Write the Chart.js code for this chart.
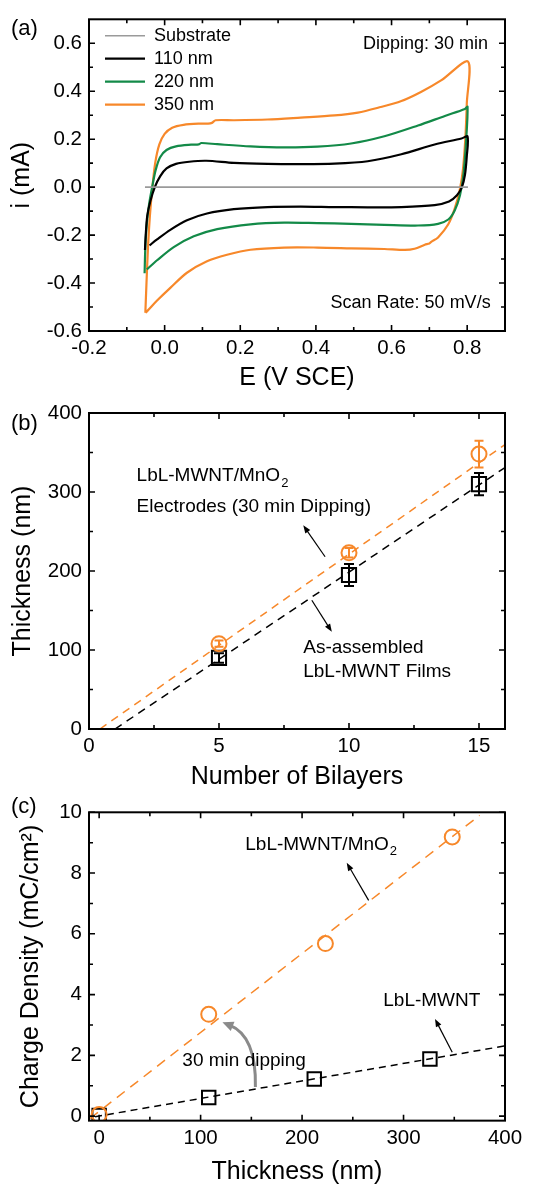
<!DOCTYPE html>
<html><head><meta charset="utf-8">
<script src="https://cdn.jsdelivr.net/npm/chart.js@4.4.0/dist/chart.umd.min.js"></script>
<style>
html,body{margin:0;padding:0;background:#fff;overflow:hidden;width:536px;height:1184px;}
.p{position:absolute;left:0;width:536px;}
canvas{display:block;}
</style></head><body>
<div class="p" style="top:0"><canvas id="ca" width="536" height="393"></canvas></div>
<div class="p" style="top:393px"><canvas id="cb" width="536" height="400"></canvas></div>
<div class="p" style="top:793px"><canvas id="cc" width="536" height="394"></canvas></div>
<script>
// ---------- Panel (a): cyclic voltammograms ----------
const eSub = [-0.052, 0.802];
const iSub = [0, 0];
const e110 = [-0.052,-0.050,-0.046,-0.038,-0.026,-0.012,0.005,0.030,0.065,0.110,0.183,0.272,0.360,0.449,0.537,0.626,0.714,0.785,0.801,
              0.799,0.794,0.786,0.773,0.752,0.714,0.626,0.537,0.449,0.360,0.272,0.183,0.112,0.059,0.015,-0.020,-0.040];
const i110 = [-0.262,-0.200,-0.120,-0.060,0.000,0.045,0.078,0.097,0.106,0.110,0.101,0.097,0.096,0.098,0.108,0.137,0.178,0.203,0.211,
              0.130,0.050,0.000,-0.034,-0.060,-0.075,-0.083,-0.084,-0.083,-0.081,-0.083,-0.092,-0.110,-0.138,-0.178,-0.218,-0.243];
const e220 = [-0.053,-0.051,-0.047,-0.041,-0.033,-0.024,-0.012,0.005,0.030,0.070,0.090,0.097,0.139,0.227,0.316,0.404,0.493,0.581,0.670,0.741,0.794,0.801,
              0.797,0.790,0.781,0.767,0.750,0.723,0.670,0.581,0.493,0.404,0.316,0.227,0.139,0.077,0.024,-0.020,-0.047];
const i220 = [-0.359,-0.250,-0.150,-0.070,0.000,0.070,0.125,0.155,0.170,0.177,0.178,0.184,0.179,0.170,0.166,0.169,0.182,0.212,0.257,0.297,0.326,0.335,
              0.190,0.050,-0.034,-0.097,-0.135,-0.153,-0.160,-0.157,-0.153,-0.150,-0.148,-0.155,-0.175,-0.205,-0.250,-0.305,-0.343];
const e350 = [-0.051,-0.048,-0.044,-0.039,-0.033,-0.025,-0.014,0.000,0.020,0.050,0.090,0.115,0.125,0.135,0.183,0.272,0.360,0.449,0.511,0.564,0.626,0.679,0.732,0.802,
              0.799,0.795,0.789,0.781,0.767,0.750,0.723,0.705,0.700,0.688,0.661,0.635,0.581,0.493,0.404,0.316,0.227,0.165,0.112,0.059,0.015,-0.020,-0.045,-0.051];
const i350 = [-0.524,-0.400,-0.250,-0.120,-0.010,0.100,0.178,0.222,0.248,0.260,0.265,0.265,0.268,0.279,0.279,0.282,0.290,0.299,0.311,0.331,0.359,0.398,0.446,0.524,
              0.350,0.200,0.076,-0.007,-0.090,-0.155,-0.210,-0.228,-0.235,-0.240,-0.257,-0.262,-0.258,-0.255,-0.252,-0.252,-0.261,-0.282,-0.309,-0.357,-0.420,-0.473,-0.515,-0.524];
const aXTicks = [-0.2, 0.0, 0.2, 0.4, 0.6, 0.8];
const aXTickLabels = ['-0.2', '0.0', '0.2', '0.4', '0.6', '0.8'];
const aXMinor = [-0.1, 0.1, 0.3, 0.5, 0.7];
const aYTicks = [-0.6, -0.4, -0.2, 0.0, 0.2, 0.4, 0.6];
const aYTickLabels = ['-0.6', '-0.4', '-0.2', '0.0', '0.2', '0.4', '0.6'];
const aYMinor = [-0.5, -0.3, -0.1, 0.1, 0.3, 0.5];

// ---------- Panel (b): thickness vs bilayers ----------
const bilayers = [5, 10, 15];
const thickElectrode = [108, 223, 348];
const thickElectrodeErr = [4, 6, 17];
const thickFilm = [90, 195, 310];
const thickFilmErr = [6, 14, 14];
const fitElectrodeBilayers = [0.42, 16];
const fitElectrodeThick = [0, 360];
const fitFilmBilayers = [1, 16];
const fitFilmThick = [0, 331];
const bXTicks = [0, 5, 10, 15];
const bXTickLabels = ['0', '5', '10', '15'];
const bXMinor = [2.5, 7.5, 12.5];
const bYTicks = [0, 100, 200, 300, 400];
const bYTickLabels = ['0', '100', '200', '300', '400'];
const bYMinor = [50, 150, 250, 350];

// ---------- Panel (c): charge density vs thickness ----------
const thickC = [0, 108, 223, 348];
const chargeElectrode = [0.05, 3.35, 5.68, 9.19];
const thickCFilm = [0, 108, 212, 326];
const chargeFilm = [0.02, 0.61, 1.22, 1.88];
const fitCElectrodeThick = [-9, 375];
const fitCElectrodeCharge = [-0.08, 9.9];
const fitCFilmThick = [-4, 400];
const fitCFilmCharge = [-0.02, 2.31];
const cXTicks = [0, 100, 200, 300, 400];
const cXTickLabels = ['0', '100', '200', '300', '400'];
const cXMinor = [50, 150, 250, 350];
const cYTicks = [0, 2, 4, 6, 8, 10];
const cYTickLabels = ['0', '2', '4', '6', '8', '10'];
const cYMinor = [1, 3, 5, 7, 9];

const FONT = "'Liberation Sans', Arial, Helvetica, sans-serif";
const ORANGE = '#F7882A', GREEN = '#138A48', GRAY = '#9A9A9A', BLACK = '#000000';
Chart.defaults.font.family = FONT;
Chart.defaults.color = '#000';
Chart.defaults.animation = false;

function pts(xs, ys) { return xs.map((x, i) => ({x: x, y: ys[i]})); }
const fixedTicks = vals => scale => { scale.ticks = vals.map(v => ({value: v})); };

function arrow(ctx, x0, y0, x1, y1, color, lw, hl, hw, cx, cy) {
  ctx.save();
  ctx.strokeStyle = color; ctx.fillStyle = color; ctx.lineWidth = lw;
  let ang = (cx !== undefined) ? Math.atan2(y1 - cy, x1 - cx) : Math.atan2(y1 - y0, x1 - x0);
  const ex = x1 - Math.cos(ang) * hl * 0.7, ey = y1 - Math.sin(ang) * hl * 0.7;
  ctx.beginPath(); ctx.moveTo(x0, y0);
  if (cx !== undefined) ctx.quadraticCurveTo(cx, cy, ex, ey); else ctx.lineTo(ex, ey);
  ctx.stroke();
  ctx.beginPath(); ctx.moveTo(x1, y1);
  ctx.lineTo(x1 - hl * Math.cos(ang) + hw * Math.sin(ang), y1 - hl * Math.sin(ang) - hw * Math.cos(ang));
  ctx.lineTo(x1 - hl * Math.cos(ang) - hw * Math.sin(ang), y1 - hl * Math.sin(ang) + hw * Math.cos(ang));
  ctx.closePath(); ctx.fill();
  ctx.restore();
}

const decor = {
  id: 'decor',
  afterLayout(chart, args, o) {
    if (o.legendAt && chart.legend) { chart.legend.left = o.legendAt[0]; chart.legend.top = o.legendAt[1]; }
  },
  beforeDatasetsDraw(chart, args, o) {
    const {ctx, scales: {x, y}} = chart;
    (o.errorBars || []).forEach(eb => {
      ctx.save(); ctx.strokeStyle = eb.color; ctx.lineWidth = eb.width;
      eb.xs.forEach((xv, i) => {
        const px = x.getPixelForValue(xv);
        const y1 = y.getPixelForValue(eb.ys[i] - eb.err[i]), y2 = y.getPixelForValue(eb.ys[i] + eb.err[i]);
        ctx.beginPath();
        ctx.moveTo(px, y1); ctx.lineTo(px, y2);
        ctx.moveTo(px - eb.cap, y1); ctx.lineTo(px + eb.cap, y1);
        ctx.moveTo(px - eb.cap, y2); ctx.lineTo(px + eb.cap, y2);
        ctx.stroke();
      });
      ctx.restore();
    });
  },
  afterDraw(chart, args, o) {
    const {ctx, chartArea: a, scales: {x, y}} = chart;
    ctx.save();
    ctx.strokeStyle = '#000'; ctx.lineWidth = 1.6;
    const t = o.ticks;
    const xt = (vals, len) => vals.forEach(v => { const p = x.getPixelForValue(v);
      ctx.beginPath(); ctx.moveTo(p, a.bottom); ctx.lineTo(p, a.bottom - len);
      ctx.moveTo(p, a.top); ctx.lineTo(p, a.top + len); ctx.stroke(); });
    const yt = (vals, len) => vals.forEach(v => { const p = y.getPixelForValue(v);
      ctx.beginPath(); ctx.moveTo(a.left, p); ctx.lineTo(a.left + len, p);
      ctx.moveTo(a.right, p); ctx.lineTo(a.right - len, p); ctx.stroke(); });
    xt(t.xMajor, 6); xt(t.xMinor, 4); yt(t.yMajor, 6); yt(t.yMinor, 4);
    ctx.lineWidth = 2;
    ctx.strokeRect(a.left, a.top, a.right - a.left, a.bottom - a.top);
    ctx.restore();
    (o.arrows || []).forEach(ar => {
      const c = ar.ctrl;
      arrow(ctx, x.getPixelForValue(ar.from[0]), y.getPixelForValue(ar.from[1]),
        x.getPixelForValue(ar.to[0]), y.getPixelForValue(ar.to[1]), ar.color, ar.width, ar.hl, ar.hw,
        c ? x.getPixelForValue(c[0]) : undefined, c ? y.getPixelForValue(c[1]) : undefined);
    });
    ctx.save();
    ctx.fillStyle = '#000'; ctx.textBaseline = 'middle';
    (o.texts || []).forEach(tx => {
      const px = x.getPixelForValue(tx.x), py = y.getPixelForValue(tx.y);
      ctx.font = tx.size + 'px ' + FONT; ctx.textAlign = tx.align || 'left';
      ctx.fillText(tx.text, px, py);
      if (tx.sub) {
        const w = ctx.measureText(tx.text).width;
        ctx.font = Math.round(tx.size * 0.68) + 'px ' + FONT; ctx.textAlign = 'left';
        ctx.fillText(tx.sub, px + w + 1, py + 7);
      }
    });
    if (o.label) {
      ctx.font = '22px ' + FONT; ctx.textAlign = 'left';
      ctx.fillText(o.label.text, o.label.x, o.label.y);
    }
    ctx.restore();
  }
};

function axis(min, max, tickVals, tickLabels, size, isX, title, titlePad) {
  return {
    type: 'linear', min: min, max: max,
    afterBuildTicks: fixedTicks(tickVals),
    afterFit: s => { if (isX) s.height = size; else s.width = size; },
    grid: {display: false, drawTicks: false},
    border: {display: false},
    ticks: {padding: isX ? 5 : 7, font: {size: 20.5}, color: '#000', autoSkip: false, maxRotation: 0,
      callback: (v, i) => tickLabels[i]},
    title: {display: true, text: title, font: {size: 25}, color: '#000', padding: titlePad}
  };
}

const common = {responsive: false, animation: false, events: []};

// Panel (a)
new Chart(document.getElementById('ca'), {
  type: 'scatter',
  data: {datasets: [
    {label: 'Substrate', data: pts(eSub, iSub), showLine: true, borderColor: GRAY, backgroundColor: GRAY, borderWidth: 1.6, pointRadius: 0},
    {label: '110 nm', data: pts(e110, i110), showLine: true, borderColor: BLACK, backgroundColor: BLACK, borderWidth: 2.2, pointRadius: 0, tension: 0.3, borderJoinStyle: 'round'},
    {label: '220 nm', data: pts(e220, i220), showLine: true, borderColor: GREEN, backgroundColor: GREEN, borderWidth: 2.2, pointRadius: 0, tension: 0.3, borderJoinStyle: 'round'},
    {label: '350 nm', data: pts(e350, i350), showLine: true, borderColor: ORANGE, backgroundColor: ORANGE, borderWidth: 2.2, pointRadius: 0, tension: 0.3, borderJoinStyle: 'round'}
  ]},
  options: Object.assign({}, common, {
    layout: {padding: {top: 16, right: 31, bottom: 0, left: 0}},
    scales: {
      x: axis(-0.2, 0.9, aXTicks, aXTickLabels, 62, true, 'E (V SCE)', {top: 0, bottom: 0}),
      y: axis(-0.6, 0.7, aYTicks, aYTickLabels, 89, false, 'i (mA)', {top: 7.5, bottom: 0})
    },
    plugins: {
      tooltip: {enabled: false},
      legend: {display: true, position: 'chartArea', align: 'start',
        labels: {usePointStyle: true, pointStyle: 'line', pointStyleWidth: 40, boxHeight: 18, padding: 5,
          font: {size: 18}, color: '#000'}},
      decor: {
        legendAt: [100, 21.7],
        ticks: {xMajor: aXTicks, xMinor: aXMinor, yMajor: aYTicks, yMinor: aYMinor},
        texts: [
          {x: 0.855, y: 0.598, text: 'Dipping: 30 min', size: 18, align: 'right'},
          {x: 0.862, y: -0.482, text: 'Scan Rate: 50 mV/s', size: 18, align: 'right'}
        ],
        label: {text: '(a)', x: 11, y: 29}
      }
    }
  }),
  plugins: [decor]
});

// Panel (b)
new Chart(document.getElementById('cb'), {
  type: 'scatter',
  data: {datasets: [
    {label: 'LbL-MWNT/MnO2 electrodes', data: pts(bilayers, thickElectrode), pointStyle: 'circle', pointRadius: 7.5,
      pointBorderColor: ORANGE, pointBackgroundColor: 'rgba(0,0,0,0)', pointBorderWidth: 2},
    {label: 'As-assembled LbL-MWNT films', data: pts(bilayers, thickFilm), pointStyle: 'rect', pointRadius: 10,
      pointBorderColor: BLACK, pointBackgroundColor: 'rgba(0,0,0,0)', pointBorderWidth: 2},
    {label: 'fit electrodes', data: pts(fitElectrodeBilayers, fitElectrodeThick), showLine: true, borderColor: ORANGE,
      borderWidth: 1.5, borderDash: [8, 6], pointRadius: 0},
    {label: 'fit films', data: pts(fitFilmBilayers, fitFilmThick), showLine: true, borderColor: BLACK,
      borderWidth: 1.5, borderDash: [8, 6], pointRadius: 0}
  ]},
  options: Object.assign({}, common, {
    layout: {padding: {top: 20, right: 31, bottom: 0, left: 0}},
    scales: {
      x: axis(0, 16, bXTicks, bXTickLabels, 64, true, 'Number of Bilayers', {top: 0, bottom: 1}),
      y: axis(0, 400, bYTicks, bYTickLabels, 89, false, 'Thickness (nm)', {top: 8, bottom: 0})
    },
    plugins: {
      tooltip: {enabled: false},
      legend: {display: false},
      decor: {
        ticks: {xMajor: bXTicks, xMinor: bXMinor, yMajor: bYTicks, yMinor: bYMinor},
        errorBars: [
          {xs: bilayers, ys: thickElectrode, err: thickElectrodeErr, color: ORANGE, width: 2, cap: 4.5},
          {xs: bilayers, ys: thickFilm, err: thickFilmErr, color: BLACK, width: 2, cap: 5}
        ],
        arrows: [
          {from: [9.08, 218], to: [8.24, 258], color: '#000', width: 1.2, hl: 8, hw: 3},
          {from: [8.57, 163], to: [9.34, 123], color: '#000', width: 1.2, hl: 8, hw: 3}
        ],
        texts: [
          {x: 1.83, y: 320, text: 'LbL-MWNT/MnO', sub: '2', size: 19},
          {x: 1.83, y: 281, text: 'Electrodes (30 min Dipping)', size: 19},
          {x: 8.24, y: 103, text: 'As-assembled', size: 19},
          {x: 8.24, y: 72.5, text: 'LbL-MWNT Films', size: 19}
        ],
        label: {text: '(b)', x: 11, y: 31}
      }
    }
  }),
  plugins: [decor]
});

// Panel (c)
new Chart(document.getElementById('cc'), {
  type: 'scatter',
  data: {datasets: [
    {label: 'LbL-MWNT/MnO2', data: pts(thickC, chargeElectrode), pointStyle: 'circle', pointRadius: 7.5,
      pointBorderColor: ORANGE, pointBackgroundColor: 'rgba(0,0,0,0)', pointBorderWidth: 2},
    {label: 'LbL-MWNT', data: pts(thickCFilm, chargeFilm), pointStyle: 'rect', pointRadius: 9.5,
      pointBorderColor: BLACK, pointBackgroundColor: 'rgba(0,0,0,0)', pointBorderWidth: 2},
    {label: 'fit MnO2', data: pts(fitCElectrodeThick, fitCElectrodeCharge), showLine: true, borderColor: ORANGE,
      borderWidth: 1.5, borderDash: [10, 7], pointRadius: 0},
    {label: 'fit MWNT', data: pts(fitCFilmThick, fitCFilmCharge), showLine: true, borderColor: BLACK,
      borderWidth: 1.5, borderDash: [7, 5], pointRadius: 0}
  ]},
  options: Object.assign({}, common, {
    layout: {padding: {top: 13, right: 31, bottom: 0, left: 0}},
    scales: {
      x: axis(-10, 400, cXTicks, cXTickLabels, 66.35, true, 'Thickness (nm)', {top: 0, bottom: 0}),
      y: axis(-0.15, 10, cYTicks, cYTickLabels, 89, false, 'Charge Density (mC/cm²)', {top: 16, bottom: 0})
    },
    plugins: {
      tooltip: {enabled: false},
      legend: {display: false},
      decor: {
        ticks: {xMajor: cXTicks, xMinor: cXMinor, yMajor: cYTicks, yMinor: cYMinor},
        arrows: [
          {from: [265.6, 7.1], to: [244, 8.34], color: '#000', width: 1.2, hl: 8, hw: 3},
          {from: [348, 2.1], to: [331, 3.2], color: '#000', width: 1.2, hl: 8, hw: 3},
          {from: [154, 0.96], ctrl: [155, 2.64], to: [121.5, 3.09], color: '#8A8A8A', width: 3, hl: 11, hw: 5}
        ],
        texts: [
          {x: 144, y: 8.93, text: 'LbL-MWNT/MnO', sub: '2', size: 19},
          {x: 280, y: 3.8, text: 'LbL-MWNT', size: 19},
          {x: 82, y: 1.83, text: '30 min dipping', size: 19}
        ],
        label: {text: '(c)', x: 11, y: 14}
      }
    }
  }),
  plugins: [decor]
});
</script>
</body></html>
